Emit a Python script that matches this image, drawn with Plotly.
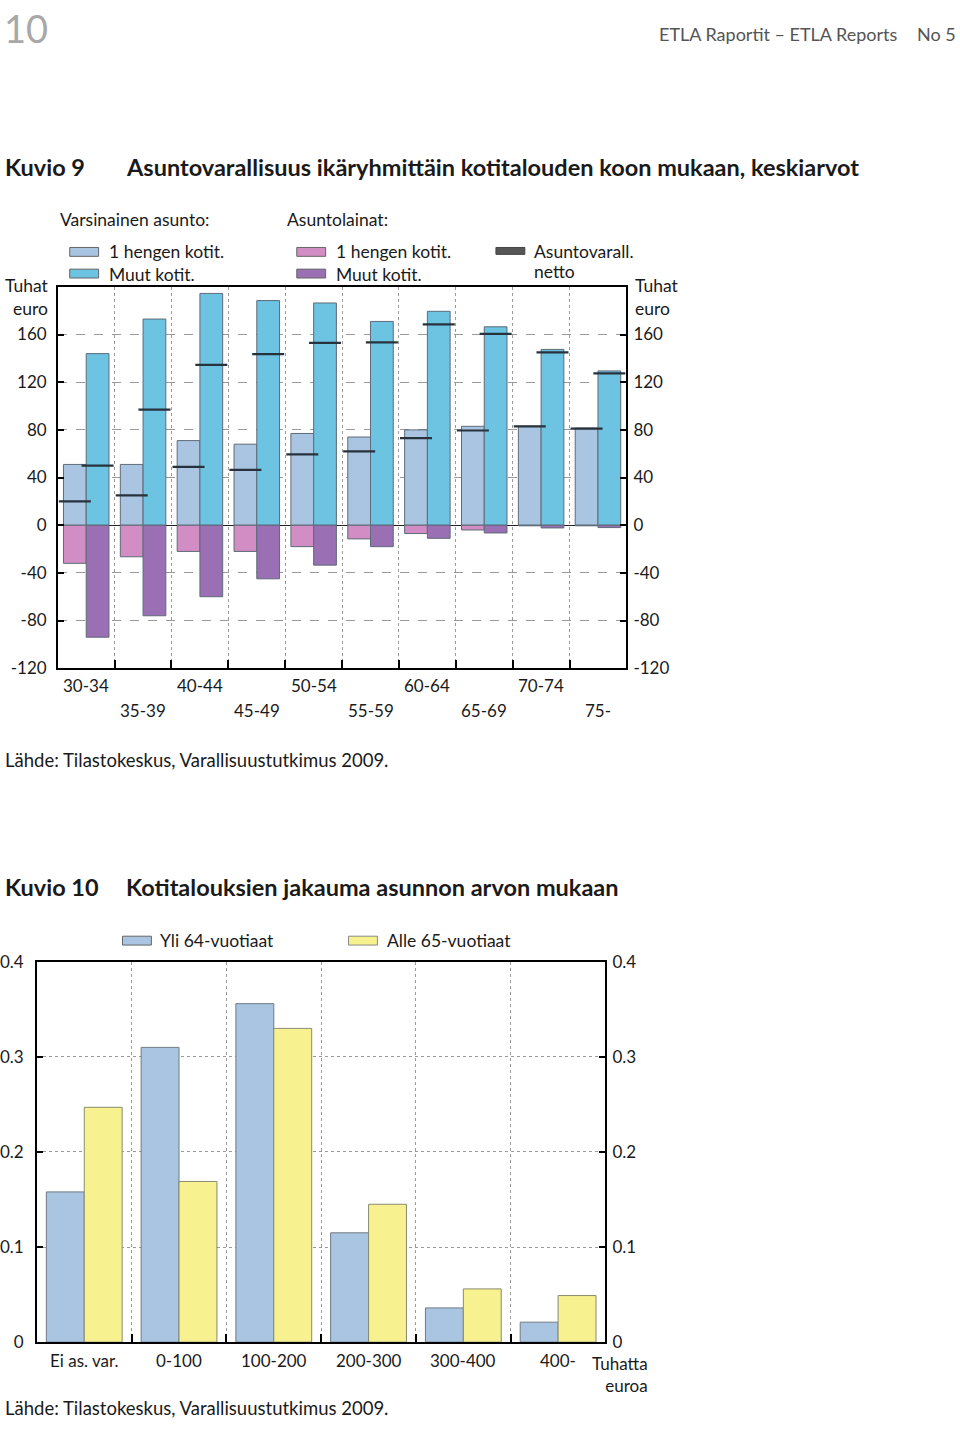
import plotly.graph_objects as go
import numpy as np

# ---------------- Data: Kuvio 9 ----------------
age_groups = ["30-34", "35-39", "40-44", "45-49", "50-54", "55-59", "60-64", "65-69", "70-74", "75-"]
single_value = [51, 51, 71, 68, 77, 74, 80, 83, 83, 81.5]
other_value = [144, 173, 194.5, 188.5, 186.5, 171, 179.5, 166.5, 147.5, 129.5]
single_loan = [-32, -26.5, -22, -22, -18, -11.5, -7, -4, -0.5, -0.5]
other_loan = [-94, -76, -60, -45, -33.5, -18, -11, -6.5, -2.3, -2]
single_net = [20, 25, 49, 46.5, 59.5, 62, 73, 79.5, 83, 81]
other_net = [50, 97, 134.5, 143.5, 153, 153.5, 168.5, 160.5, 145, 127.5]
y1_ticks = [-120, -80, -40, 0, 40, 80, 120, 160]
y1_ticktext = ["-120", "-80", "-40", "0", "40", "80", "120", "160"]

# ---------------- Data: Kuvio 10 ----------------
value_classes = ["Ei as. var.", "0-100", "100-200", "200-300", "300-400", "400-"]
over64 = [0.158, 0.310, 0.356, 0.115, 0.036, 0.021]
under65 = [0.247, 0.169, 0.330, 0.145, 0.056, 0.049]
y2_ticks = [0, 0.1, 0.2, 0.3, 0.4]
y2_ticktext = ["0", "0.1", "0.2", "0.3", "0.4"]

# ---------------- Styles ----------------
W, H = 960, 1429
FONT = "Lato"
C_SV = "#a9c5e1"
C_OV = "#6cc3e2"
C_SL = "#d28dc4"
C_OL = "#9a6fb4"
C_NET = "#27323c"
C_Y = "#f7f18f"
EDGE = "#5e6b78"
TXT = "#1a1a1a"
BODY = 17.5


def px(x):
    return x / W


def py(y):
    return 1 - y / H


n1 = len(age_groups)
g1 = np.arange(n1)
n2 = len(value_classes)
g2 = np.arange(n2)
BW = 0.4

fig = go.Figure()

# Chart 1 bars
fig.add_trace(go.Bar(x=g1 - BW / 2, y=single_value, width=BW, marker=dict(color=C_SV, line=dict(color=EDGE, width=1)),
                     xaxis="x", yaxis="y", showlegend=False))
fig.add_trace(go.Bar(x=g1 + BW / 2, y=other_value, width=BW, marker=dict(color=C_OV, line=dict(color=EDGE, width=1)),
                     xaxis="x", yaxis="y", showlegend=False))
fig.add_trace(go.Bar(x=g1 - BW / 2, y=single_loan, width=BW, marker=dict(color=C_SL, line=dict(color=EDGE, width=1)),
                     xaxis="x", yaxis="y", showlegend=False))
fig.add_trace(go.Bar(x=g1 + BW / 2, y=other_loan, width=BW, marker=dict(color=C_OL, line=dict(color=EDGE, width=1)),
                     xaxis="x", yaxis="y", showlegend=False))
bar_px = BW * (625 - 54) / n1
fig.add_trace(go.Scatter(x=g1 - BW / 2, y=single_net, mode="markers", xaxis="x", yaxis="y", showlegend=False,
                         marker=dict(symbol="line-ew", size=bar_px, line=dict(color=C_NET, width=2.2))))
fig.add_trace(go.Scatter(x=g1 + BW / 2, y=other_net, mode="markers", xaxis="x", yaxis="y", showlegend=False,
                         marker=dict(symbol="line-ew", size=bar_px, line=dict(color=C_NET, width=2.2))))
# dummy for right axis
fig.add_trace(go.Scatter(x=[0], y=[0], mode="markers", marker=dict(opacity=0), xaxis="x", yaxis="y3",
                         showlegend=False, hoverinfo="skip"))

# Chart 2 bars
fig.add_trace(go.Bar(x=g2 - BW / 2, y=over64, width=BW, marker=dict(color=C_SV, line=dict(color="#6f7a84", width=1)),
                     xaxis="x2", yaxis="y2", showlegend=False))
fig.add_trace(go.Bar(x=g2 + BW / 2, y=under65, width=BW, marker=dict(color=C_Y, line=dict(color="#8a8a70", width=1)),
                     xaxis="x2", yaxis="y2", showlegend=False))
fig.add_trace(go.Scatter(x=[0], y=[0], mode="markers", marker=dict(opacity=0), xaxis="x2", yaxis="y4",
                         showlegend=False, hoverinfo="skip"))

axfont = dict(family=FONT, size=17, color=TXT)
gridc = "#9a9a9a"

fig.update_layout(
    width=W, height=H, margin=dict(l=0, r=0, t=0, b=0),
    paper_bgcolor="white", plot_bgcolor="white",
    barmode="overlay", font=dict(family=FONT, color=TXT),
    xaxis=dict(domain=[px(54), px(625)], range=[-0.5, n1 - 0.5], anchor="y",
               tickvals=list(g1[:-1] + 0.5), ticktext=[""] * (n1 - 1), ticks="inside", ticklen=8,
               tickcolor="black", tickwidth=1.5,
               showgrid=True, gridcolor=gridc, griddash="dot", gridwidth=1,
               showline=True, linecolor="black", linewidth=1.5, mirror=True, zeroline=False),
    yaxis=dict(domain=[py(667), py(280)], range=[-120, 200], anchor="x",
               tickvals=y1_ticks, ticktext=y1_ticktext, ticks="inside", ticklen=6, tickcolor="black", tickwidth=1.5,
               tickfont=axfont, ticklabelstandoff=6,
               showgrid=True, gridcolor=gridc, griddash="dash", gridwidth=1,
               zeroline=True, zerolinecolor="#222", zerolinewidth=1.2,
               showline=True, linecolor="black", linewidth=1.5, mirror=True),
    yaxis3=dict(overlaying="y", side="right", matches="y", range=[-120, 200], anchor="x",
                tickvals=y1_ticks, ticktext=y1_ticktext, ticks="inside", ticklen=6, tickcolor="black", tickwidth=1.5,
                tickfont=axfont, ticklabelstandoff=6, showgrid=False, zeroline=False, showline=False),
    xaxis2=dict(domain=[px(33), px(604)], range=[-0.5, n2 - 0.5], anchor="y2",
                tickvals=list(g2[:-1] + 0.5), ticktext=[""] * (n2 - 1), ticks="inside", ticklen=8,
                tickcolor="black", tickwidth=1.5,
                showgrid=True, gridcolor=gridc, griddash="dot", gridwidth=1,
                showline=True, linecolor="black", linewidth=1.5, mirror=True, zeroline=False),
    yaxis2=dict(domain=[py(1351), py(965)], range=[0, 0.4], anchor="x2",
                tickvals=y2_ticks, ticktext=y2_ticktext, ticks="inside", ticklen=6, tickcolor="black", tickwidth=1.5,
                tickfont=axfont, ticklabelstandoff=8,
                showgrid=True, gridcolor=gridc, griddash="dot", gridwidth=1, zeroline=False,
                showline=True, linecolor="black", linewidth=1.5, mirror=True),
    yaxis4=dict(overlaying="y2", side="right", matches="y2", range=[0, 0.4], anchor="x2",
                tickvals=y2_ticks, ticktext=y2_ticktext, ticks="inside", ticklen=6, tickcolor="black", tickwidth=1.5,
                tickfont=axfont, ticklabelstandoff=6, showgrid=False, zeroline=False, showline=False),
)

ann = []
shapes = []


def text(x, y, s, size=BODY, xanchor="left", color=TXT, bold=False, xref="paper", yref="paper", align="left"):
    ann.append(dict(x=x if xref != "paper" else px(x), y=py(y), xref=xref, yref=yref, text=s,
                    showarrow=False, xanchor=xanchor, yanchor="middle", align=align,
                    font=dict(family=FONT, size=size, color=color, weight="bold" if bold else "normal")))


def swatch(x0, x1, y0, y1, color, edge="#666"):
    shapes.append(dict(type="rect", xref="paper", yref="paper", x0=px(x0), x1=px(x1), y0=py(y1), y1=py(y0),
                       fillcolor=color, line=dict(color=edge, width=1)))


# header
text(-2, 17, "10", size=38, color="#a8a8a8")
text(900, 23, "ETLA Raportit – ETLA Reports", size=18, color="#555", xanchor="right")
text(958, 23, "No 5", size=18, color="#555", xanchor="right")

# Kuvio 9 title
text(-1, 158, "Kuvio 9", size=23.5, bold=True)
text(121, 158, "Asuntovarallisuus ikäryhmittäin kotitalouden koon mukaan, keskiarvot", size=23.5, bold=True)

# legend chart 1
text(54, 212, "Varsinainen asunto:")
text(282, 212, "Asuntolainat:")
swatch(66, 95, 240, 249, C_SV)
text(103, 244, "1 hengen kotit.")
swatch(66, 95, 262, 271, C_OV)
text(103, 267, "Muut kotit.")
swatch(294, 323, 240, 249, C_SL)
text(331, 244, "1 hengen kotit.")
swatch(294, 323, 262, 271, C_OL)
text(331, 267, "Muut kotit.")
swatch(494, 523, 240, 247, "#555", edge="#444")
text(530, 244, "Asuntovarall.")
text(530, 264, "netto")

# units
text(47, 290, "Tuhat<br>euro", xanchor="right", align="right")
text(632, 290, "Tuhat<br>euro")

# x labels chart 1 (staggered)
for i, lab in enumerate(age_groups):
    ann.append(dict(x=i, y=py(685 if i % 2 == 0 else 710), xref="x", yref="paper", text=lab, showarrow=False,
                    xanchor="center", yanchor="middle", font=dict(family=FONT, size=17, color=TXT)))

text(-1, 760, "Lähde: Tilastokeskus, Varallisuustutkimus 2009.", size=18.5)

# Kuvio 10
text(-1, 889, "Kuvio 10", size=23.5, bold=True)
text(121, 889, "Kotitalouksien jakauma asunnon arvon mukaan", size=23.5, bold=True)
swatch(119, 148, 939, 948, C_SV)
text(155, 943, "Yli 64-vuotiaat")
swatch(346, 375, 939, 948, C_Y, edge="#888")
text(383, 943, "Alle 65-vuotiaat")

for i, lab in enumerate(value_classes):
    ann.append(dict(x=i, y=py(1370), xref="x2", yref="paper", text=lab, showarrow=False,
                    xanchor="center", yanchor="middle", font=dict(family=FONT, size=17, color=TXT)))
text(649, 1384, "Tuhatta<br>euroa", xanchor="right", align="right", size=17)
text(-1, 1418, "Lähde: Tilastokeskus, Varallisuustutkimus 2009.", size=18.5)

fig.update_layout(annotations=ann, shapes=shapes)
fig.write_html("out.html", post_script="document.body.style.margin='0';")
